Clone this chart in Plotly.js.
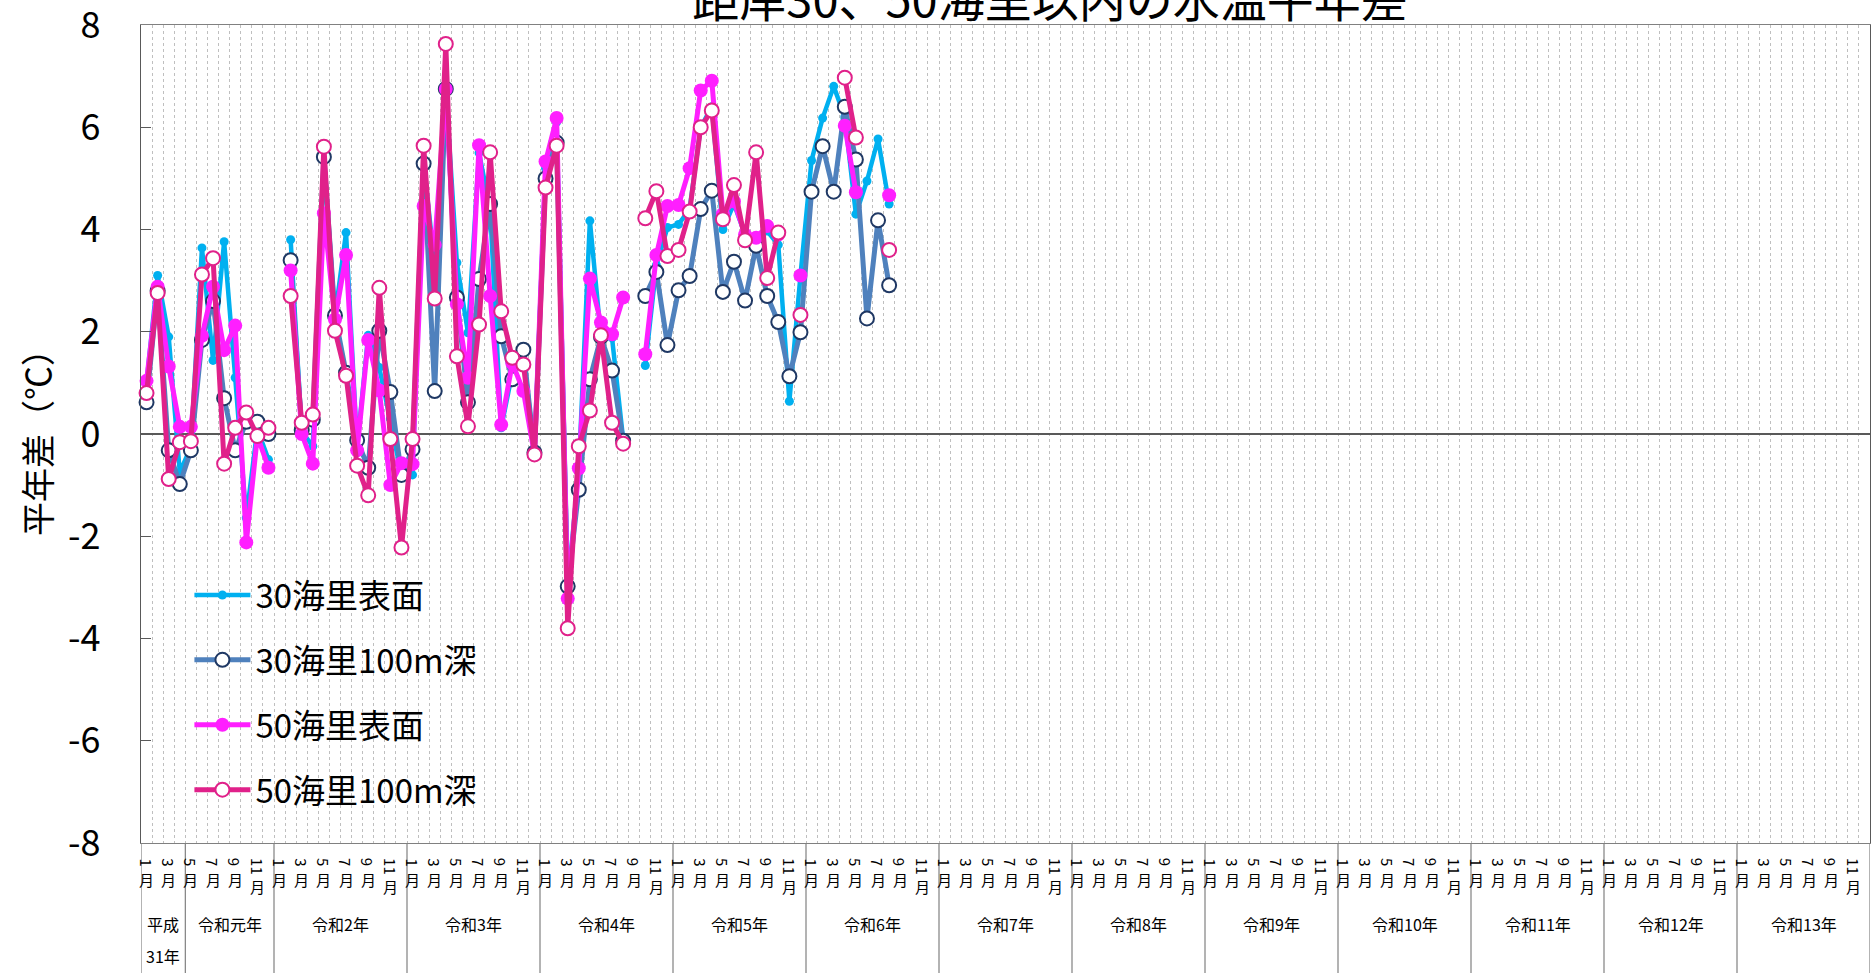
<!DOCTYPE html>
<html>
<head>
<meta charset="utf-8">
<script src="https://cdn.plot.ly/plotly-3.0.1.min.js"></script>
<style>
html,body{margin:0;padding:0;background:#fff;}
#chart{width:1874px;height:973px;}
</style>
</head>
<body>
<div id="chart"></div>
<script>
// ---- data (monthly, Jan 2019 = month 1 ... Aug 2024 = month 68) ----
const seriesNames = ["30海里表面", "30海里100m深", "50海里表面", "50海里100m深"];

const sea30Surface = [1.0, 3.1, 1.9, -0.75, -0.25, 3.64, 1.44, 3.76, 1.1, -1.64, 0.1, -0.5,
  null, 3.8, 0.05, -0.24, 5.4, 2.3, 3.94, -0.25, 1.93, 1.3, 0.3, -0.8,
  -0.8, 5.3, 3.3, 6.75, 3.35, 1.98, 5.5, 4.4, 0.12, 1.2, 1.6, -0.4,
  5.2, 6.1, -3.0, -0.7, 4.17, 1.9, 1.88, -0.1, null, 1.34, 3.3, 4.04,
  4.1, 4.4, 6.0, 6.4, 4.0, 4.5, 3.9, 3.8, 3.97, 3.7, 0.64, 3.1,
  5.35, 6.18, 6.8, 6.2, 4.3, 4.95, 5.77, 4.5];

const sea30Deep = [0.62, 2.8, -0.32, -0.98, -0.32, 1.84, 2.6, 0.7, -0.32, 0.24, 0.24, 0.0,
  null, 3.4, 0.08, 0.28, 5.42, 2.32, 1.2, -0.12, -0.66, 2.02, 0.82, -0.8,
  -0.3, 5.29, 0.84, 6.75, 2.67, 0.62, 3.03, 4.5, 1.91, 1.07, 1.65, -0.36,
  5.0, 5.7, -2.98, -1.09, 1.07, 1.9, 1.24, -0.13, null, 2.7, 3.17, 1.74,
  2.81, 3.09, 4.4, 4.76, 2.78, 3.37, 2.61, 3.68, 2.7, 2.19, 1.13, 1.99,
  4.74, 5.63, 4.74, 6.4, 5.37, 2.26, 4.18, 2.91];

const sea50Surface = [1.04, 2.88, 1.32, 0.14, 0.14, 1.92, 2.88, 1.64, 2.12, -2.12, -0.04, -0.66,
  null, 3.2, 0.0, -0.58, 4.32, 2.24, 3.5, -0.32, 1.84, 0.85, -1.0, -0.57,
  -0.59, 4.46, 3.7, 6.75, 2.54, 1.1, 5.65, 2.7, 0.18, 1.39, 0.84, -0.4,
  5.33, 6.18, -3.22, -0.67, 3.04, 2.18, 1.95, 2.67, null, 1.56, 3.5, 4.46,
  4.48, 5.2, 6.72, 6.91, 4.3, 4.55, 3.9, 3.84, 4.07, 3.9, null, 3.1,
  null, null, null, 6.03, 4.73, null, null, 4.67];

const sea50Deep = [0.8, 2.76, -0.88, -0.16, -0.14, 3.12, 3.44, -0.58, 0.12, 0.42, -0.04, 0.12,
  null, 2.7, 0.22, 0.38, 5.62, 2.02, 1.14, -0.62, -1.2, 2.86, -0.1, -2.22,
  -0.1, 5.64, 2.65, 7.63, 1.52, 0.15, 2.14, 5.51, 2.4, 1.49, 1.36, -0.4,
  4.82, 5.64, -3.8, -0.24, 0.46, 1.93, 0.22, -0.19, null, 4.22, 4.75, 3.48,
  3.6, 4.35, 6.0, 6.33, 4.2, 4.87, 3.79, 5.51, 3.05, 3.94, null, 2.33,
  null, null, null, 6.97, 5.8, null, null, 3.6];

const monthTickLabels = ["1", "3", "5", "7", "9", "11"];
const yearLabels = ["令和元年", "令和2年", "令和3年", "令和4年", "令和5年", "令和6年",
  "令和7年", "令和8年", "令和9年", "令和10年", "令和11年", "令和12年", "令和13年"];
const firstYearLabel = ["平成", "31年"];
const nYears = 13;
const yTicks = [-8, -6, -4, -2, 0, 2, 4, 6, 8];
const yTickText = ["-8", "-6", "-4", "-2", "0", "2", "4", "6", "8"];
const titleText = "距岸30、50海里以内の水温平年差";
const yTitleText = "平年差（℃）";

// ---- build ----
const nMonths = nYears * 12;
const xIdx = sea30Surface.map((_, i) => i + 1);
const FONT = '"Noto Sans CJK JP", "Noto Sans", sans-serif';

const traces = [
  {name: seriesNames[0], y: sea30Surface, line: {color: '#00B0F0', width: 4.5},
   marker: {symbol: 'circle', size: 9, color: '#00B0F0'}},
  {name: seriesNames[1], y: sea30Deep, line: {color: '#4F81BD', width: 5},
   marker: {symbol: 'circle', size: 14, color: '#FFFFFF', line: {color: '#1F3864', width: 2}}},
  {name: seriesNames[2], y: sea50Surface, line: {color: '#FF1FFF', width: 5},
   marker: {symbol: 'circle', size: 14, color: '#FF1FFF'}},
  {name: seriesNames[3], y: sea50Deep, line: {color: '#E0218A', width: 5},
   marker: {symbol: 'circle', size: 14, color: '#FFFFFF', line: {color: '#E0218A', width: 2}}}
].map((t, i) => Object.assign({
  type: 'scatter', mode: 'lines+markers', x: xIdx, connectgaps: false,
  legendgroup: 'g' + i, cliponaxis: false
}, t));

// plot geometry in px
const L = 141, R = 4, T = 25, B = 130;
const H = 973, W = 1874;
const plotH = H - T - B;
const pyFromPx = (py) => (H - B - py) / plotH; // pixel row -> paper y

const boundaries = [];
for (let k = 0; k <= nMonths; k++) boundaries.push(k + 0.5);

const annotations = [];
for (let yr = 0; yr < nYears; yr++) {
  monthTickLabels.forEach((m) => {
    const x = yr * 12 + Number(m);
    annotations.push({x: x, xref: 'x', y: pyFromPx(856), yref: 'paper', text: m,
      textangle: 90, showarrow: false, xanchor: 'center', yanchor: 'top',
      font: {family: FONT, size: 15, color: '#000'}});
    annotations.push({x: x, xref: 'x', y: pyFromPx(m.length > 1 ? 874 : 867), yref: 'paper', text: '月',
      showarrow: false, xanchor: 'center', yanchor: 'top',
      font: {family: FONT, size: 15, color: '#000'}});
  });
}
// year labels
annotations.push({x: 2.5, xref: 'x', y: pyFromPx(924), yref: 'paper', text: firstYearLabel[0],
  showarrow: false, yanchor: 'middle', font: {family: FONT, size: 16, color: '#000'}});
annotations.push({x: 2.5, xref: 'x', y: pyFromPx(956), yref: 'paper', text: firstYearLabel[1],
  showarrow: false, yanchor: 'middle', font: {family: FONT, size: 16, color: '#000'}});
yearLabels.forEach((lab, i) => {
  const start = i === 0 ? 5 : i * 12 + 1;
  const end = (i + 1) * 12;
  annotations.push({x: (start + end) / 2, xref: 'x', y: pyFromPx(924), yref: 'paper', text: lab,
    showarrow: false, yanchor: 'middle', font: {family: FONT, size: 16, color: '#000'}});
});

const shapes = [];
// legend white panel
shapes.push({type: 'rect', xref: 'x', yref: 'paper', x0: 0.55, x1: 34.5, y0: 0.002, y1: pyFromPx(562),
  fillcolor: '#FFFFFF', line: {width: 0}, layer: 'between'});
// year separators below axis
const seps = [0.5, 4.5];
for (let yr = 1; yr <= nYears; yr++) seps.push(yr * 12 + 0.5);
seps.forEach((s) => shapes.push({type: 'line', xref: 'x', yref: 'paper', x0: s, x1: s,
  y0: 0, y1: pyFromPx(H), line: {color: '#808080', width: 1.2}}));

const layout = {
  width: W, height: H,
  margin: {l: L, r: R, t: T, b: B, pad: 0},
  paper_bgcolor: '#FFFFFF', plot_bgcolor: '#FFFFFF',
  font: {family: FONT, color: '#000'},
  showlegend: true,
  title: {text: titleText, font: {family: FONT, size: 47, color: '#000'},
    x: 1050 / W, xanchor: 'center', xref: 'container', yref: 'paper', y: 1, yanchor: 'bottom',
    pad: {b: 8, t: 0}},
  xaxis: {range: [0.5, nMonths + 0.5], tickmode: 'array', tickvals: boundaries,
    showticklabels: false, ticks: '', showgrid: true, gridcolor: '#BFBFBF', griddash: 'dot', gridwidth: 1,
    zeroline: false, showline: true, linecolor: '#808080', linewidth: 1.2, mirror: true, fixedrange: true},
  yaxis: {range: [-8.0005, 8.0005], tickmode: 'array', tickvals: yTicks, ticktext: yTickText,
    ticks: 'inside', ticklen: 10, ticklabeloverflow: 'allow',
    tickcolor: '#595959', tickwidth: 1.2, showgrid: false, zeroline: true, zerolinecolor: '#595959',
    zerolinewidth: 1.3, showline: true, linecolor: '#595959', linewidth: 1.2, mirror: true,
    tickfont: {family: FONT, size: 36, color: '#000'}, ticklabelstandoff: 32,
    title: {text: yTitleText, font: {family: FONT, size: 34, color: '#000'}, standoff: 6}, fixedrange: true},
  legend: {x: 0.028, y: pyFromPx(567), xanchor: 'left', yanchor: 'top', bgcolor: 'rgba(0,0,0,0)',
    font: {family: FONT, size: 33, color: '#000'}, traceorder: 'grouped', tracegroupgap: 19,
    itemwidth: 56},
  annotations: annotations,
  shapes: shapes
};

Plotly.newPlot('chart', traces, layout, {displayModeBar: false, staticPlot: true});
</script>
</body>
</html>
